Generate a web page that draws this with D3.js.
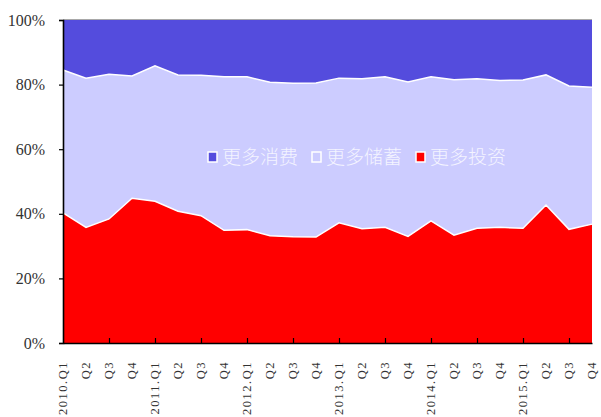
<!DOCTYPE html>
<html>
<head>
<meta charset="utf-8">
<script src="https://cdn.jsdelivr.net/npm/d3@7"></script>
<style>
  body { margin: 0; background: #fff; }
  #chart svg { display: block; }
</style>
</head>
<body>
<div id="chart"></div>
<script>
// quarters 2010.Q1 .. 2015.Q4
const quarters = [
  "2010.Q1", "Q2", "Q3", "Q4",
  "2011.Q1", "Q2", "Q3", "Q4",
  "2012.Q1", "Q2", "Q3", "Q4",
  "2013.Q1", "Q2", "Q3", "Q4",
  "2014.Q1", "Q2", "Q3", "Q4",
  "2015.Q1", "Q2", "Q3", "Q4"
];

// share of answers, %
const moreInvest  = [40.3, 35.8, 38.4, 44.8, 43.9, 40.8, 39.4, 34.9, 35.1, 33.2, 32.9, 32.8,
                     37.2, 35.4, 35.8, 33.0, 37.8, 33.4, 35.5, 35.8, 35.5, 42.7, 35.2, 36.8];
const moreSave    = [44.2, 46.2, 44.8, 37.9, 41.9, 42.2, 43.5, 47.5, 47.3, 47.5, 47.5, 47.7,
                     44.8, 46.4, 46.6, 47.8, 44.6, 48.1, 46.3, 45.5, 45.9, 40.3, 44.4, 42.4];
const moreConsume = [15.5, 18.0, 16.8, 17.3, 14.2, 17.0, 17.1, 17.6, 17.6, 19.3, 19.6, 19.5,
                     18.0, 18.2, 17.6, 19.2, 17.6, 18.5, 18.2, 18.7, 18.6, 17.0, 20.4, 20.8];

const seriesNames = ["更多投资", "更多储蓄", "更多消费"];
const yTicks = [0, 20, 40, 60, 80, 100];

const size = {
  width: 601,
  height: 417,
  margin: { top: 20, right: 9, bottom: 74, left: 63 }
};
const colors = {
  "更多投资": "#ff0000",
  "更多储蓄": "#ccccff",
  "更多消费": "#544cdd"
};

const rows = quarters.map((q, i) => ({
  i: i,
  "更多投资": moreInvest[i],
  "更多储蓄": moreSave[i],
  "更多消费": moreConsume[i]
}));

const innerW = size.width - size.margin.left - size.margin.right;
const innerH = size.height - size.margin.top - size.margin.bottom;

const xScale = d3.scaleLinear()
  .domain([0, quarters.length - 1])
  .range([0, innerW]);

const yScale = d3.scaleLinear()
  .domain([0, 100])
  .range([innerH, 0]);

const stacked = d3.stack().keys(seriesNames)(rows);

const svg = d3.select("#chart")
  .append("svg")
  .attr("width", size.width)
  .attr("height", size.height);

const g = svg.append("g")
  .attr("transform", `translate(${size.margin.left}, ${size.margin.top})`);

const area = d3.area()
  .x((d) => xScale(d.data.i))
  .y0((d) => yScale(d[0]))
  .y1((d) => yScale(d[1]));

g.selectAll("path.layer")
  .data(stacked)
  .enter()
  .append("path")
  .attr("class", "layer")
  .attr("fill", (d) => colors[d.key])
  .attr("d", area);

// white boundary lines
const edge = d3.line()
  .x((d) => xScale(d.data.i))
  .y((d) => yScale(d[1]));

g.selectAll("path.edge")
  .data(stacked.slice(0, 2))
  .enter()
  .append("path")
  .attr("class", "edge")
  .attr("fill", "none")
  .attr("stroke", "#ffffff")
  .attr("stroke-width", 1.5)
  .attr("d", edge);

// top border
g.append("line")
  .attr("x1", 0).attr("x2", innerW)
  .attr("y1", yScale(100) - 0.5).attr("y2", yScale(100) - 0.5)
  .attr("stroke", "#a8a8a8")
  .attr("stroke-width", 1.2);

// Y axis
const yAxis = g.append("g")
  .call(d3.axisLeft(yScale)
    .tickValues(yTicks)
    .tickSize(4)
    .tickPadding(14)
    .tickFormat((d) => d + "%"));
yAxis.select(".domain").attr("stroke", "#000").attr("stroke-width", 1.6);
yAxis.selectAll(".tick line").attr("stroke", "#000").attr("stroke-width", 1.2);
yAxis.selectAll(".tick text")
  .attr("fill", "#333")
  .style("font-family", "'Liberation Serif', 'DejaVu Serif', serif")
  .style("font-size", "16px");

// X axis: ticks every 2nd quarter, labels for all
const xAxis = g.append("g")
  .attr("transform", `translate(0, ${innerH})`)
  .call(d3.axisBottom(xScale)
    .tickValues(d3.range(0, quarters.length, 2))
    .tickSize(-5)
    .tickSizeOuter(0)
    .tickFormat(""));
xAxis.select(".domain").attr("stroke", "#000").attr("stroke-width", 1.6);
xAxis.selectAll(".tick line").attr("stroke", "#000").attr("stroke-width", 1.2);
xAxis.selectAll(".tick line").filter((d) => d === 0).remove();

g.append("g")
  .selectAll("text")
  .data(quarters)
  .enter()
  .append("text")
  .attr("transform", (d, i) => `translate(${xScale(i) + 4}, ${innerH + 18}) rotate(-90)`)
  .attr("text-anchor", "end")
  .attr("fill", "#333")
  .style("font-family", "'Liberation Serif', 'DejaVu Serif', serif")
  .style("font-size", "12.5px")
  .style("letter-spacing", "1.5px")
  .text((d) => d);

// legend inside plot
const legendItems = ["更多消费", "更多储蓄", "更多投资"];
const legend = svg.append("g")
  .attr("transform", "translate(208, 157)");

const item = legend.selectAll("g")
  .data(legendItems)
  .enter()
  .append("g")
  .attr("transform", (d, i) => `translate(${i * 104}, 0)`);

item.append("rect")
  .attr("x", 0).attr("y", -5)
  .attr("width", 9).attr("height", 10)
  .attr("fill", (d) => colors[d])
  .attr("stroke", "#ffffff")
  .attr("stroke-width", 1.5);

item.append("text")
  .attr("x", 14)
  .attr("y", 0)
  .attr("dy", "0.36em")
  .attr("fill", "#f4f4ff")
  .style("font-family", "'Noto Sans CJK SC', sans-serif")
  .style("font-size", "19px")
  .style("font-weight", 300)
  .text((d) => d);
</script>
</body>
</html>
